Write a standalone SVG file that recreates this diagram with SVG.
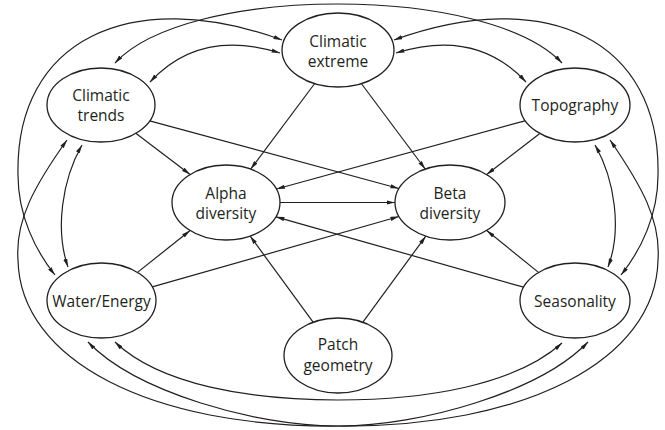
<svg xmlns="http://www.w3.org/2000/svg" width="665" height="430" viewBox="0 0 665 430">
<defs>
<style>
.nd ellipse{fill:#fff;stroke:#231f20;stroke-width:1.3}
.nd text{font-family:"Open Sans","Noto Sans",sans-serif;font-size:15.5px;fill:#231f20;text-anchor:middle}
.cn path{fill:none;stroke:#231f20;stroke-width:1.2}
.cn .s{marker-end:url(#ah)}
.cn .d{marker-start:url(#ah);marker-end:url(#ah)}
</style>
<marker id="ah" viewBox="0 0 10 5" refX="10" refY="2.5" markerWidth="8.5" markerHeight="4.5" markerUnits="userSpaceOnUse" orient="auto-start-reverse">
<path d="M0,0 L10,2.5 L0,5 z" fill="#231f20"/>
</marker>
</defs>
<rect width="665" height="430" fill="#fff"/>
<g id="connectors" class="cn">
<path class="d" d="M150,82 Q200,28 280,53"/>
<path class="d" d="M396,53 Q476,28 526,82"/>
<path class="d" d="M115,63 C150,25 240,4 338,4 C436,4 526,25 562,63"/>
<path class="d" d="M282,40 C130,-15 15,40 18,175 C18,215 35,250 55,275"/>
<path class="d" d="M394,40 C546,-15 661,40 658,175 C658,215 641,250 621,275"/>
<path class="d" d="M82,145 C62,180 55,230 68,267"/>
<path class="d" d="M595,145 C615,180 622,230 608,267"/>
<path class="d" d="M115,342 C160,385 250,400 338,400 C426,400 515,385 562,343"/>
<path class="d" d="M67,140 C35,185 15,220 18,260 C20,360 150,428 340,426 C420,426 540,392 588,342"/>
<path class="d" d="M610,140 C641,185 661,220 658,260 C656,360 526,428 336,426 C256,426 136,392 88,342"/>
<path class="s" d="M314.7,83.5 L250.7,169.1"/>
<path class="s" d="M361.3,83.5 L425.2,169"/>
<path class="s" d="M135.8,133.3 L190.1,174.5"/>
<path class="s" d="M149.7,120.9 L398.9,188.5"/>
<path class="s" d="M524.9,120.8 L276.4,189"/>
<path class="s" d="M539.5,133.8 L486.7,174.5"/>
<path class="s" d="M280,202.5 L395,202.5"/>
<path class="s" d="M137.5,272.4 L190.1,230.5"/>
<path class="s" d="M152.3,286.9 L398.9,216.5"/>
<path class="s" d="M523.6,287.2 L275.9,216.8"/>
<path class="s" d="M538.5,272.4 L486.7,230.5"/>
<path class="s" d="M313.1,322.2 L250.1,236"/>
<path class="s" d="M362.9,322.2 L425.8,236.2"/>
</g>
<g id="climatic-extreme" class="nd">
<ellipse cx="338" cy="50" rx="56" ry="37"/>
<text x="338" y="47">Climatic</text>
<text x="338" y="67">extreme</text>
</g>
<g id="climatic-trends" class="nd">
<ellipse cx="101" cy="105" rx="54" ry="37"/>
<text x="101" y="101">Climatic</text>
<text x="101" y="121">trends</text>
</g>
<g id="topography" class="nd">
<ellipse cx="575" cy="105" rx="55" ry="37"/>
<text x="575" y="111">Topography</text>
</g>
<g id="alpha-diversity" class="nd">
<ellipse cx="226" cy="202.5" rx="54" ry="37.5"/>
<text x="226" y="199">Alpha</text>
<text x="226" y="219">diversity</text>
</g>
<g id="beta-diversity" class="nd">
<ellipse cx="450" cy="202.5" rx="55" ry="37.5"/>
<text x="450" y="199">Beta</text>
<text x="450" y="219">diversity</text>
</g>
<g id="water-energy" class="nd">
<ellipse cx="101.5" cy="300.5" rx="54.5" ry="37.5"/>
<text x="101.5" y="306.5">Water/Energy</text>
</g>
<g id="seasonality" class="nd">
<ellipse cx="575" cy="300.5" rx="55" ry="37.5"/>
<text x="575" y="306.5">Seasonality</text>
</g>
<g id="patch-geometry" class="nd">
<ellipse cx="338" cy="355.5" rx="54" ry="37.5"/>
<text x="338" y="350">Patch</text>
<text x="338" y="370.5">geometry</text>
</g>
</svg>
